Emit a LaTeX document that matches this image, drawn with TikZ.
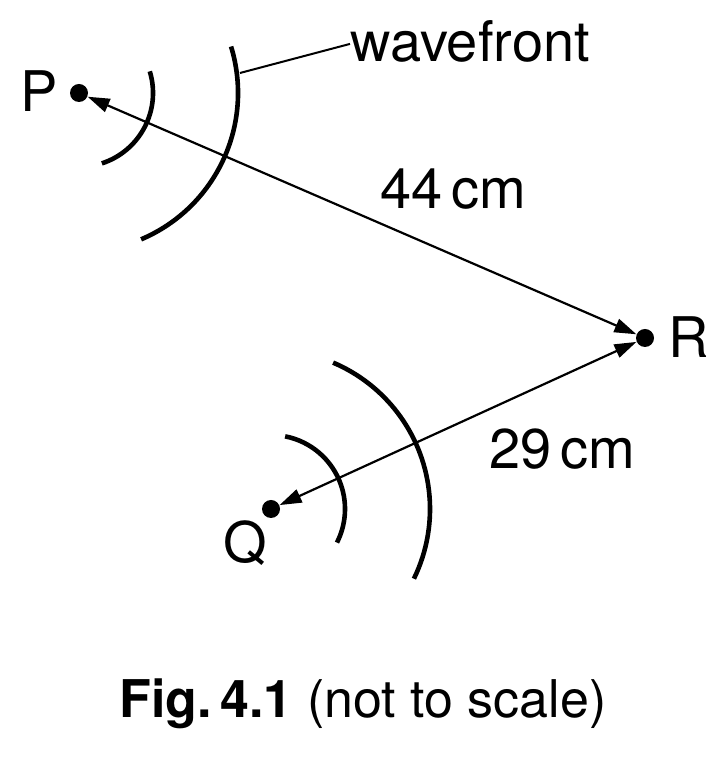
\documentclass[tikz,border=0pt]{standalone}
\usepackage{fontspec}
\setmainfont{TeX Gyre Heros}
\usetikzlibrary{arrows.meta}

\tikzset{
  dot/.style={circle,fill=black,inner sep=0pt,minimum size=9pt},
  wave/.style={line width=2.3pt},
  ray/.style={line width=1.1pt,{Triangle[length=11pt,width=7pt]}-{Triangle[length=11pt,width=7pt]}},
  lbl/.style={font=\fontsize{28}{33}\selectfont,inner sep=0pt}
}

\begin{document}
\begin{tikzpicture}[x=0.5pt,y=0.5pt]
\useasboundingbox (0,0) rectangle (717,764);
\node[dot] (P) at (79,671) {};
\node[dot] (R) at (645,426) {};
\node[dot] (Q) at (271,255) {};
\draw[ray] (P) -- (R);
\draw[ray] (Q) -- (R);
% wavefronts
\draw[wave] (P.center) ++(17:74) arc[start angle=17,end angle=-72,radius=37pt];
\draw[wave] (P.center) ++(17:159) arc[start angle=17,end angle=-67,radius=79.5pt];
\draw[wave] (Q.center) ++(79:74) arc[start angle=79,end angle=-27,radius=37pt];
\draw[wave] (Q.center) ++(67:159) arc[start angle=67,end angle=-26,radius=79.5pt];
% labels
\node[lbl,anchor=base west] at (20,652) {P};
\node[lbl,anchor=base west] at (668,406) {R};
\node[lbl,anchor=base west] at (223,201) {Q};
\node[lbl,anchor=base west] at (380,555) {44\,cm};
\node[lbl,anchor=base west] at (489,295) {29\,cm};
\node[lbl,anchor=base west] (wf) at (350,702) {wavefront};
\coordinate (wfend) at (240,691);
\draw[line width=1pt] (wf.west) ++(0,-2) coordinate (wfstart) -- (wfend);
\node[font=\fontsize{26}{31}\selectfont,inner sep=0pt,anchor=base] at (363,46) {\textbf{Fig.\,4.1} (not to scale)};
\end{tikzpicture}
\end{document}
